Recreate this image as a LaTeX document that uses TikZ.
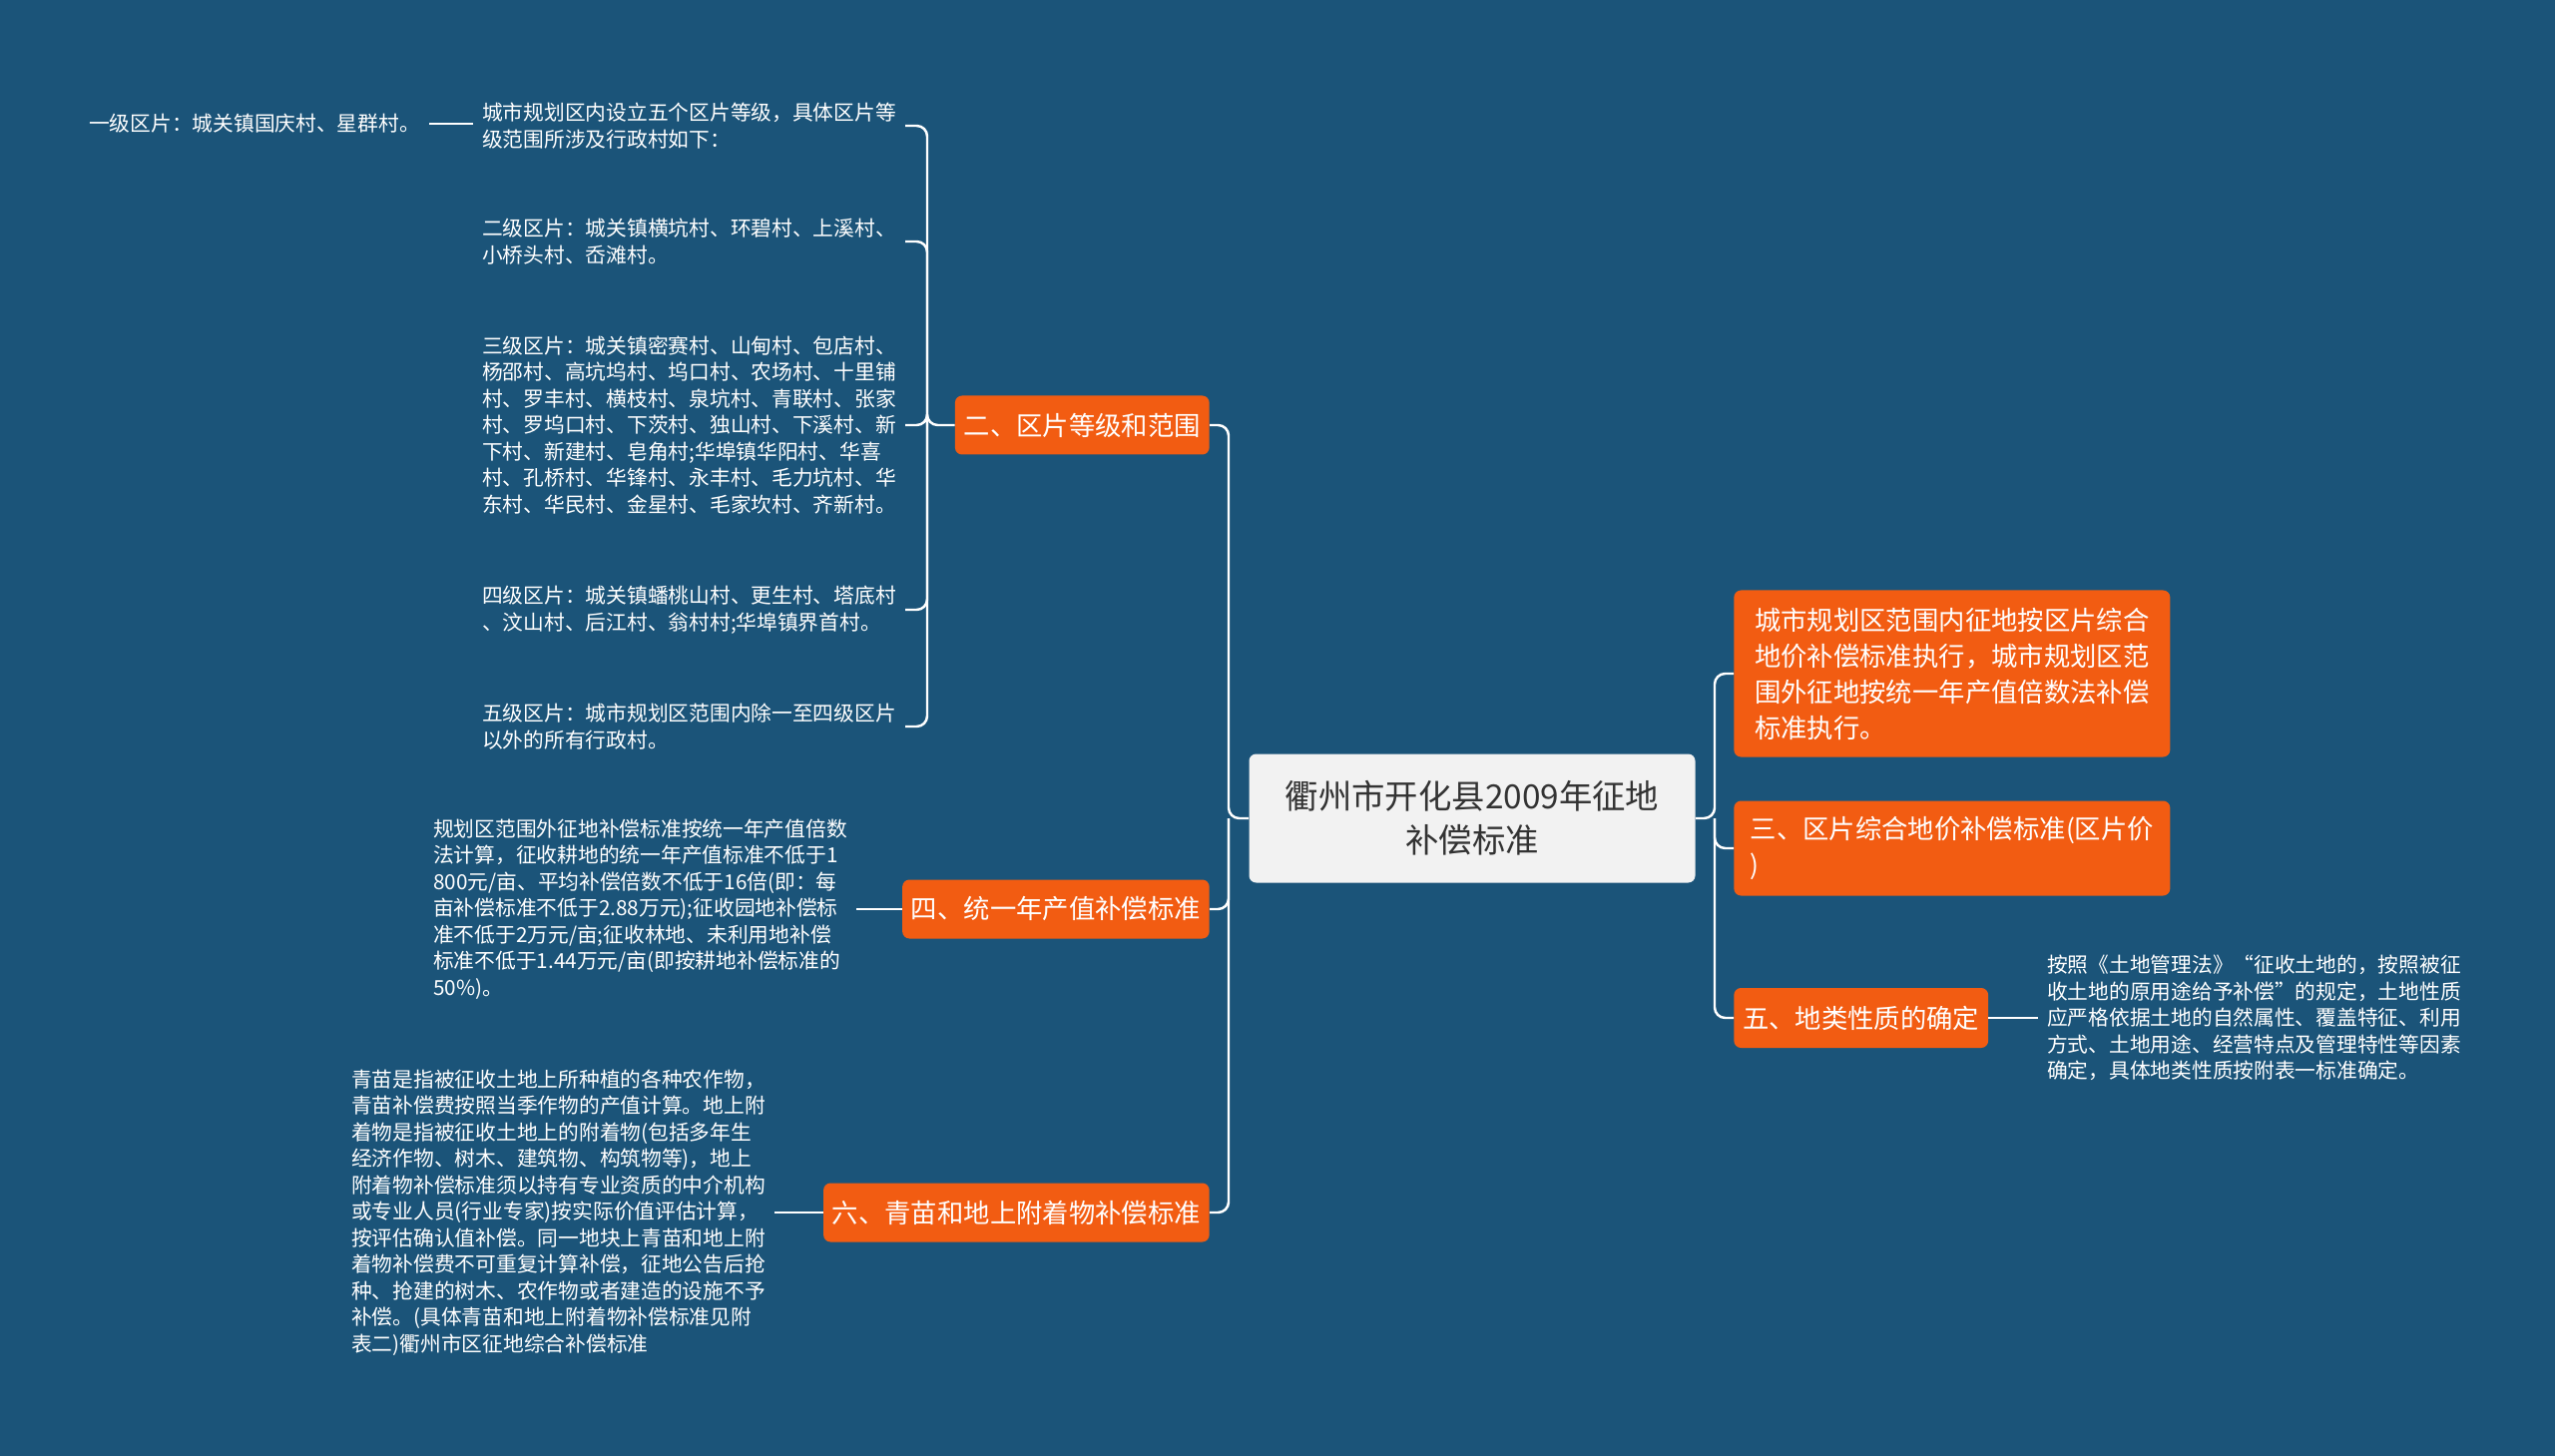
\documentclass[tikz,border=0pt]{standalone}
\usepackage{fontspec}
\setmainfont{Noto Sans CJK SC}
\definecolor{bg}{RGB}{27,84,121}
\definecolor{orng}{RGB}{242,92,18}
\definecolor{rootfill}{RGB}{242,242,242}
\definecolor{roottext}{RGB}{51,51,51}
\begin{document}
\begin{tikzpicture}[x=0.02cm, y=-0.02cm]
  \tikzstyle{root}=[rectangle, rounded corners=4pt, fill=rootfill, text=roottext, font=\fontsize{19}{25}\selectfont, align=center, minimum width=447*0.02cm, minimum height=129*0.02cm, inner sep=0pt]
  \tikzstyle{branch}=[rectangle, rounded corners=4pt, fill=orng, text=white, font=\fontsize{15}{20.5}\selectfont, align=left, inner xsep=5pt, inner ysep=5pt, anchor=west]
  \tikzstyle{leaf}=[text=white, font=\fontsize{11.8}{15.1}\selectfont, align=left, inner xsep=5pt, inner ysep=0pt, anchor=west]
  \tikzstyle{link}=[draw=white, line width=1.4pt, rounded corners=6pt]

  \fill[bg] (0,0) rectangle (2560,1459);

  \node[root] (root) at (1475, 820) {衢州市开化县2009年征地\\补偿标准};

  \node[branch, minimum width=437*0.02cm, minimum height=167*0.02cm] (r1) at (1737, 675) {城市规划区范围内征地按区片综合\\地价补偿标准执行，城市规划区范\\围外征地按统一年产值倍数法补偿\\标准执行。};
  \node[branch, minimum width=437*0.02cm, minimum height=95*0.02cm] (r2) at (1737, 850) {三、区片综合地价补偿标准(区片价\\)};
  \node[branch, minimum height=60*0.02cm] (r3) at (1737, 1020) {五、地类性质的确定};
  \node[leaf] (r3a) at (2042, 1020) {按照《土地管理法》“征收土地的，按照被征\\收土地的原用途给予补偿”的规定，土地性质\\应严格依据土地的自然属性、覆盖特征、利用\\方式、土地用途、经营特点及管理特性等因素\\确定，具体地类性质按附表一标准确定。};

  \node[branch, minimum height=59*0.02cm, anchor=east] (l1) at (1212, 426) {二、区片等级和范围};
  \node[branch, minimum height=59*0.02cm, anchor=east] (l2) at (1212, 911) {四、统一年产值补偿标准};
  \node[branch, minimum height=59*0.02cm, anchor=east] (l3) at (1212, 1215) {六、青苗和地上附着物补偿标准};

  \node[leaf, anchor=east] (c1) at (907, 126) {城市规划区内设立五个区片等级，具体区片等\\级范围所涉及行政村如下：};
  \node[leaf, anchor=east] (c2) at (907, 242) {二级区片：城关镇横坑村、环碧村、上溪村、\\小桥头村、岙滩村。};
  \node[leaf, anchor=east] (c3) at (907, 426) {三级区片：城关镇密赛村、山甸村、包店村、\\杨邵村、高坑坞村、坞口村、农场村、十里铺\\村、罗丰村、横枝村、泉坑村、青联村、张家\\村、罗坞口村、下茨村、独山村、下溪村、新\\下村、新建村、皂角村;华埠镇华阳村、华喜\\村、孔桥村、华锋村、永丰村、毛力坑村、华\\东村、华民村、金星村、毛家坎村、齐新村。};
  \node[leaf, anchor=east] (c4) at (907, 611) {四级区片：城关镇蟠桃山村、更生村、塔底村\\、汶山村、后江村、翁村村;华埠镇界首村。};
  \node[leaf, anchor=east] (c5) at (907, 728) {五级区片：城市规划区范围内除一至四级区片\\以外的所有行政村。};
  \node[leaf, anchor=east] (c1a) at (430, 124) {一级区片：城关镇国庆村、星群村。};

  \node[leaf, anchor=east] (l2a) at (858, 911) {规划区范围外征地补偿标准按统一年产值倍数\\法计算，征收耕地的统一年产值标准不低于1\\800元/亩、平均补偿倍数不低于16倍(即：每\\亩补偿标准不低于2.88万元);征收园地补偿标\\准不低于2万元/亩;征收林地、未利用地补偿\\标准不低于1.44万元/亩(即按耕地补偿标准的\\50\%)。};
  \node[leaf, anchor=east] (l3a) at (776, 1215) {青苗是指被征收土地上所种植的各种农作物，\\青苗补偿费按照当季作物的产值计算。地上附\\着物是指被征收土地上的附着物(包括多年生\\经济作物、树木、建筑物、构筑物等)，地上\\附着物补偿标准须以持有专业资质的中介机构\\或专业人员(行业专家)按实际价值评估计算，\\按评估确认值补偿。同一地块上青苗和地上附\\着物补偿费不可重复计算补偿，征地公告后抢\\种、抢建的树木、农作物或者建造的设施不予\\补偿。(具体青苗和地上附着物补偿标准见附\\表二)衢州市区征地综合补偿标准};

  \coordinate (rt) at (1718, 820);
  \coordinate (lt) at (1231, 820);
  \coordinate (ct) at (929, 426);

  \draw[link] (root.east) -- (rt) |- (r1.west);
  \draw[link] (rt) |- (r2.west);
  \draw[link] (rt) |- (r3.west);
  \draw[link] (r3.east) -- (r3a.west);

  \draw[link] (root.west) -- (lt) |- (l1.east);
  \draw[link] (lt) |- (l2.east);
  \draw[link] (lt) |- (l3.east);
  \draw[link] (l2.west) -- (l2a.east);
  \draw[link] (l3.west) -- (l3a.east);

  \draw[link] (l1.west) -- (ct) |- (c1.east);
  \draw[link] (ct) |- (c2.east);
  \draw[link] (ct) |- (c3.east);
  \draw[link] (ct) |- (c4.east);
  \draw[link] (ct) |- (c5.east);
  \draw[link] (c1.west |- c1a) -- (c1a.east);
\end{tikzpicture}
\end{document}
